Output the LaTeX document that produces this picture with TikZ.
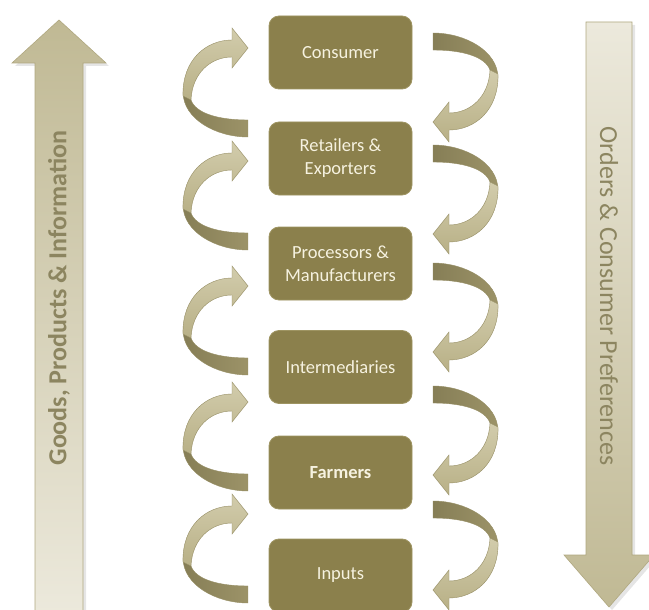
\documentclass[tikz,border=0pt]{standalone}
\usepackage{fontspec}
\setmainfont{Carlito}
\definecolor{boxfill}{RGB}{139,128,76}
\definecolor{boxedge}{RGB}{158,148,98}
\definecolor{boxtext}{RGB}{246,242,224}
\definecolor{bigdark}{RGB}{192,185,148}
\definecolor{biglight}{RGB}{236,233,220}
\definecolor{bigedge}{RGB}{176,168,128}
\definecolor{sidetext}{RGB}{140,133,96}
\definecolor{curllight}{RGB}{210,204,172}
\definecolor{curlmid}{RGB}{184,176,134}
\definecolor{curldark}{RGB}{134,126,86}
\definecolor{curldarktwo}{RGB}{156,147,104}
\definecolor{curledge}{RGB}{150,142,100}
\tikzset{
  stage/.style={rectangle, rounded corners=10pt, minimum width=143pt, minimum height=73pt,
    fill=boxfill, draw=boxedge, line width=0.8pt, text=boxtext, align=center,
    font=\fontsize{18.5}{23}\selectfont},
  sidelabel/.style={text=sidetext, font=\fontsize{26}{30}\selectfont},
  bigarrow/.style={draw=bigedge, line width=0.6pt},
  curl/.pic={
    \path[left color=curldark, right color=curldarktwo, draw=curledge, line width=0.4pt]
      (-65,44) .. controls (-65,71) and (-32,89) .. (0,89) -- (0,72)
      .. controls (-28,72) and (-52,66) .. (-57,52) -- cycle;
    \path[top color=curllight, bottom color=curlmid, draw=curledge, line width=0.4pt]
      (-65,48) .. controls (-66,12) and (-42,-8) .. (-16,-8) -- (-16,-20) -- (0,0)
      -- (-16,20) -- (-16,9) .. controls (-38,9) and (-56,26) .. (-57,52) -- cycle;
  }
}
\begin{document}
\begin{tikzpicture}[x=1pt,y=-1pt]
\useasboundingbox (0,0) rectangle (649,610);
\clip (0,0) rectangle (649,610);
\fill[white] (0,0) rectangle (649,610);

% big side arrows
\fill[black,opacity=0.10] (38,614) -- (38,66) -- (15,66) -- (62,23) -- (109,66) -- (86,66) -- (86,614) -- cycle;
\path[bigarrow, top color=bigdark, bottom color=biglight]
  (35,614) -- (35,63) -- (12,63) -- (59,20) -- (106,63) -- (83,63) -- (83,614) -- cycle;
\fill[black,opacity=0.10] (589,25) -- (589,558) -- (567,558) -- (612,610) -- (657,558) -- (635,558) -- (635,25) -- cycle;
\path[bigarrow, top color=biglight, bottom color=bigdark]
  (586,22) -- (586,555) -- (564,555) -- (609,607) -- (654,555) -- (632,555) -- (632,22) -- cycle;

\node[sidelabel, rotate=90, font=\bfseries\fontsize{26}{30}\selectfont] (goods) at (59,298) {Goods, Products \& Information};
\node[sidelabel, rotate=-90] (orders) at (609,296) {Orders \& Consumer Preferences};

% stages
\node[stage] (consumer) at (340.5,52.5) {Consumer};
\node[stage] (retail) at (340.5,158.5) {Retailers \&\\Exporters};
\node[stage] (proc) at (340.5,263.5) {Processors \&\\Manufacturers};
\node[stage] (inter) at (340.5,367) {Intermediaries};
\node[stage] (farm) at (340.5,472.5) {\bfseries Farmers};
\node[stage] (inputs) at (340.5,575.5) {Inputs};

% curved arrows
\foreach \t in {48,161,286,402,514} { \pic at (248,\t) {curl}; }
\foreach \t in {122,234,352,475,590} { \pic[rotate=180] at (433,\t) {curl}; }
\end{tikzpicture}
\end{document}
